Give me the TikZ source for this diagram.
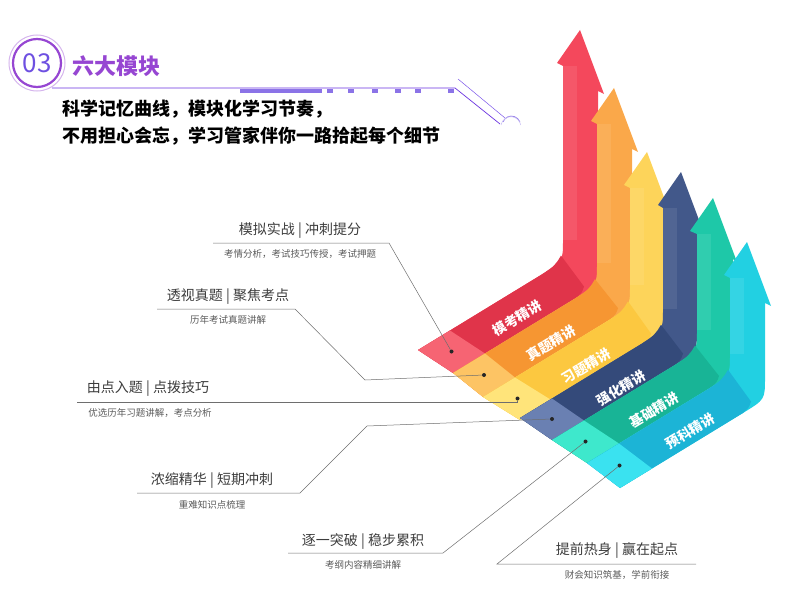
\documentclass[tikz,border=0pt]{standalone}
\usepackage{fontspec}
\setmainfont{Noto Sans CJK SC}
\usetikzlibrary{calc}
\definecolor{ringpurple}{RGB}{150, 70, 210}
\definecolor{titleblue}{RGB}{110, 80, 225}
\definecolor{leadgray}{RGB}{110, 110, 110}
\definecolor{captext}{RGB}{60, 60, 60}
\definecolor{subtext}{RGB}{90, 90, 90}
% vertical / diagonal / front tip colours of the six bands
\definecolor{bandAv}{RGB}{244, 72, 92}   \definecolor{bandAd}{RGB}{224, 52, 74}  \definecolor{bandAf}{RGB}{246, 100, 115}
\definecolor{bandBv}{RGB}{250, 168, 74}  \definecolor{bandBd}{RGB}{246, 150, 50} \definecolor{bandBf}{RGB}{253, 196, 100}
\definecolor{bandCv}{RGB}{253, 212, 90}  \definecolor{bandCd}{RGB}{252, 200, 64} \definecolor{bandCf}{RGB}{255, 228, 122}
\definecolor{bandDv}{RGB}{66, 88, 138}   \definecolor{bandDd}{RGB}{52, 74, 122}  \definecolor{bandDf}{RGB}{106, 128, 178}
\definecolor{bandEv}{RGB}{30, 200, 168}  \definecolor{bandEd}{RGB}{24, 180, 150} \definecolor{bandEf}{RGB}{62, 232, 204}
\definecolor{bandFv}{RGB}{34, 208, 226}  \definecolor{bandFd}{RGB}{28, 180, 214} \definecolor{bandFf}{RGB}{58, 226, 240}

\begin{document}
\begin{tikzpicture}[
    x=1pt, y=-1pt,
    caption/.style={font=\fontsize{14}{16}\selectfont, text=captext, inner sep=0pt},
    subcap/.style={font=\fontsize{9.5}{11}\selectfont, text=subtext, inner sep=0pt},
    leader/.style={draw=leadgray, line width=0.5pt},
    bandtext/.style={font=\fontsize{13.5}{15}\selectfont\bfseries, text=white, rotate=31, inner sep=0pt},
    bulletdot/.style={circle, fill=black!85, inner sep=0pt, minimum size=4pt},
]
\useasboundingbox (0,0) rectangle (801,610);

% header
\draw[ringpurple!40, line width=1pt] (37,63) circle (28);
\draw[ringpurple, line width=2.2pt] (37,63) circle (24);
\node[font=\fontsize{26}{28}\selectfont, text=titleblue, inner sep=0pt] (num) at (37,63) {03};
\node[font=\fontsize{22}{24}\selectfont\bfseries, text=ringpurple, anchor=west, inner sep=0pt] (title) at (72,66) {六大模块};
\draw[ringpurple!70!blue, line width=0.7pt] (52,88) -- (455,88) -- (500,124);
\draw[ringpurple!60!blue!80, line width=0.5pt] (458,79) -- (505,118);
\fill[titleblue!80] (240,89.5) rectangle (322,93);
\foreach \dx in {327,348,372,395,415,448}
  \fill[titleblue!80] (\dx,89.5) rectangle ++(6,3.5);
\draw[titleblue!70, line width=0.8pt] (503,122) arc[start angle=200, end angle=340, radius=9];
\draw[titleblue!40, line width=0.5pt] (501,125) arc[start angle=190, end angle=350, radius=10];
\node[font=\fontsize{18}{20}\selectfont\bfseries, anchor=west, inner sep=0pt] (line1) at (62,109) {科学记忆曲线，模块化学习节奏，};
\node[font=\fontsize{18}{20}\selectfont\bfseries, anchor=west, inner sep=0pt] (line2) at (62,136) {不用担心会忘，学习管家伴你一路拾起每个细节};

% bands: colour / front top / front bottom / shaft left, right / arrow tip
\foreach \c/\px/\py/\qx/\qy/\l/\r/\tx/\ty/\name in {
    A/418/350/453/373/563/598/580/30/dotA,
    B/453/373/483/397/597/632/614/88/dotB,
    C/483/397/520/420/630/665/647/152/dotC,
    D/520/418/552/440/663/697/681/172/dotD,
    E/552/440/587/463/697/733/713/198/dotE,
    F/587/463/620/488/730/765/747/242/dotF}{
  \pgfmathsetmacro{\yl}{\py-0.61*(\l-\px)}
  \pgfmathsetmacro{\yr}{\qy-0.61*(\r-\qx)}
  \fill[band\c v] (\px,\py) -- (\l-22,\yl+13.4) .. controls (\l,\yl) .. (\l,\yl-22)
    -- (\l,\ty+36) -- (\tx-23,\ty+33) -- (\tx,\ty) -- (\tx+24,\ty+64) -- (\r,\ty+61)
    -- (\r,\yr-22) .. controls (\r,\yr) .. (\r-22,\yr+13.4) -- (\qx,\qy) -- cycle;
  \fill[band\c v!92!white] (\l,\yl-22) rectangle (\l+14,\ty+36);
  \fill[band\c d] (\px,\py) -- (\l-22,\yl+13.4) .. controls (\l-8,\yl+4) .. (\l-2,\yl-6)
    -- (\r-14,\yr+2) .. controls (\r-16,\yr+8) .. (\r-22,\yr+13.4) -- (\qx,\qy) -- cycle;
  \fill[band\c f] (\px,\py) -- (\px+32,\py-19.5) -- (\qx+32,\qy-19.5) -- (\qx,\qy) -- cycle;
  \node[bulletdot] (\name) at ({(\px+\qx)/2+16},{(\py+\qy)/2-10}) {};
}
\node[bandtext] (labA) at (517,318) {模考精讲};
\node[bandtext] (labB) at (551,343) {真题精讲};
\node[bandtext] (labC) at (586,366) {习题精讲};
\node[bandtext] (labD) at (621,388) {强化精讲};
\node[bandtext] (labE) at (654,410) {基础精讲};
\node[bandtext] (labF) at (690,431) {预科精讲};

% callouts
\node[caption] (capA) at (300,231) {模拟实战 | 冲刺提分};
\node[subcap] (subA) at (300,254) {考情分析，考试技巧传授，考试押题};
\coordinate (ulA) at (213,243); \coordinate (endA) at (389,243);
\draw[leader] (ulA) -- (endA) -- (dotA);

\node[caption] (capB) at (228,297) {透视真题 | 聚焦考点};
\node[subcap] (subB) at (228,320) {历年考试真题讲解};
\coordinate (ulB) at (157,309); \coordinate (endB) at (295,309); \coordinate (kneeB) at (365,380);
\draw[leader] (ulB) -- (endB) -- (kneeB) -- (dotB);

\node[caption] (capC) at (148,389) {由点入题 | 点拨技巧};
\node[subcap] (subC) at (150,413) {优选历年习题讲解，考点分析};
\coordinate (ulC) at (77,402);
\draw[leader] (ulC) -- (ulC -| dotC) -- (dotC);

\node[caption] (capD) at (212,481) {浓缩精华 | 短期冲刺};
\node[subcap] (subD) at (212,505) {重难知识点梳理};
\coordinate (ulD) at (137,493); \coordinate (endD) at (300,493); \coordinate (kneeD) at (367,426);
\draw[leader] (ulD) -- (endD) -- (kneeD) -- (dotD);

\node[caption] (capE) at (363,542) {逐一突破 | 稳步累积};
\node[subcap] (subE) at (363,565) {考纲内容精细讲解};
\coordinate (ulE) at (288,553); \coordinate (endE) at (443,553);
\draw[leader] (ulE) -- (endE) -- (dotE);

\node[caption] (capF) at (617,551) {提前热身 | 赢在起点};
\node[subcap] (subF) at (617,575) {财会知识筑基，学前衔接};
\coordinate (ulF) at (696,564); \coordinate (endF) at (497,564);
\draw[leader] (ulF) -- (endF) -- (dotF);

\end{tikzpicture}
\end{document}
